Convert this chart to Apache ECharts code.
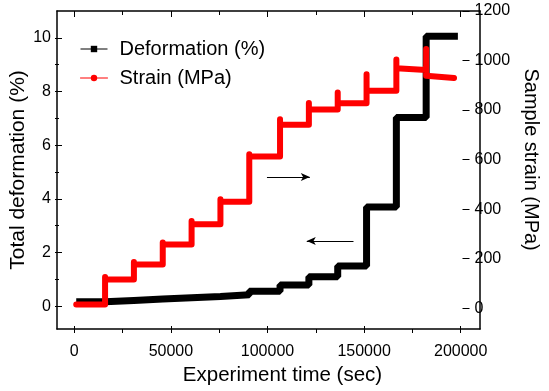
<!DOCTYPE html>
<html>
<head>
<meta charset="utf-8">
<script src="https://cdn.jsdelivr.net/npm/echarts@6/dist/echarts.min.js"></script>
<style>html,body{margin:0;padding:0;background:#fff}#c{width:549px;height:391px}</style>
</head>
<body>
<div id="c"></div>
<script>
// ---- data ----
var deformTimes  = [0, 15000, 30000, 45000, 60000, 75000, 90000, 106000, 121000, 136000, 151000, 166500, 182000, 198500];
var deformValues = [0.03, 0.08, 0.13, 0.18, 0.23, 0.29, 0.42, 0.66, 0.97, 1.38, 3.6, 6.98, 10.05, 10.05];

var strainTimes  = [0, 15000, 30000, 45000, 60000, 75000, 90000, 106000, 121000, 136000, 151000, 166500, 182000];
var strainSpikes = [0, 113, 174, 254, 342, 430, 614, 757, 824, 867, 941, 1002, 1045];
var strainStart  = [0, 102, 164, 245, 328, 420, 605, 735, 797, 823, 874, 966, 935];
var strainEnd    = [0, 102, 164, 245, 328, 420, 605, 735, 797, 823, 874, 959, 926];
var strainLastTime = 196500;

// axis scales / ticks
var xMin = -10000, xMax = 210000, xLabelStep = 50000, xMinorStep = 25000, xTickMax = 200000;
var leftMin = -1, leftMax = 11, leftLabelStep = 2, leftMinorStep = 1, leftTickMax = 10;
var rightMin = -100, rightMax = 1200, rightLabelStep = 200;

// arrows (annotation, data coords on left axis)
var arrowRight = [[99200, 4.74], [121500, 4.74]];
var arrowLeft  = [[144200, 2.32], [119900, 2.32]];

// ---- build series data ----
var deformData = deformTimes.map(function (t, i) { return [t, deformValues[i]]; });
var strainData = [];
for (var i = 0; i < strainTimes.length; i++) {
  var t = strainTimes[i];
  if (i > 0) strainData.push([t, strainEnd[i - 1]]);
  strainData.push([t, strainSpikes[i]]);
  strainData.push([t, strainStart[i]]);
}
strainData.push([strainLastTime, strainEnd[strainEnd.length - 1]]);

// ---- layout of main grid ----
var W = 549, H = 391, GL = 55, GR = 69, GT = 11, GB = 58;
var pw = W - GL - GR, ph = H - GT - GB;
function xPix(v) { return GL + (v - xMin) / (xMax - xMin) * pw; }
function yPixL(v) { return GT + (leftMax - v) / (leftMax - leftMin) * ph; }
function yPixR(v) { return GT + (rightMax - v) / (rightMax - rightMin) * ph; }

var FONT = 'Liberation Sans, Arial, sans-serif';
var plain = function (v) { return String(v); };
var chart = echarts.init(document.getElementById('c'), null, {renderer: 'canvas'});
var frameLine = {show: true, onZero: false, lineStyle: {color: '#000', width: 1.5}};
var noLine = {show: false, onZero: false};
var tickStyle = {color: '#000', width: 1};
var labelStyle = {fontSize: 16, color: '#000', fontFamily: FONT, formatter: plain};
function dummy(gi) { return {type: 'value', gridIndex: gi, show: false, min: 0, max: 1}; }

var option = {
  animation: false,
  backgroundColor: '#fff',
  textStyle: {fontFamily: FONT},
  grid: [
    {left: GL, right: GR, top: GT, bottom: GB},
    {left: xPix(0), right: W - xPix(xTickMax), top: GT, bottom: GB},
    {left: GL, right: GR, top: yPixL(leftTickMax), bottom: H - yPixL(0)},
    {left: GL, right: GR, top: GT, bottom: H - yPixR(0)}
  ],
  legend: {
    orient: 'vertical', left: 75, top: 34, itemGap: 9,
    itemWidth: 27, itemHeight: 8,
    textStyle: {fontSize: 20, color: '#000', fontFamily: FONT, padding: [0, 0, 0, 7]},
    lineStyle: {width: 1},
    data: ['Deformation (%)', 'Strain (MPa)']
  },
  xAxis: [
    // 0: main data axis (frame bottom + title)
    {type: 'value', gridIndex: 0, position: 'bottom', min: xMin, max: xMax,
     name: 'Experiment time (sec)', nameLocation: 'middle', nameGap: 36,
     nameTextStyle: {fontSize: 20.5, color: '#000', fontFamily: FONT, padding: [0, 0, 0, 28]},
     axisLine: frameLine, splitLine: {show: false}, axisTick: {show: false}, axisLabel: {show: false}},
    // 1: frame top
    {type: 'value', gridIndex: 0, position: 'top', min: xMin, max: xMax,
     axisLine: frameLine, splitLine: {show: false}, axisTick: {show: false}, axisLabel: {show: false}},
    // 2: bottom major ticks + labels
    {type: 'value', gridIndex: 1, position: 'bottom', min: 0, max: xTickMax, interval: xLabelStep,
     axisLine: noLine, splitLine: {show: false},
     axisTick: {show: true, inside: true, length: 7, lineStyle: tickStyle},
     axisLabel: Object.assign({show: true, margin: 11}, labelStyle)},
    // 3: bottom minor ticks
    {type: 'value', gridIndex: 1, position: 'bottom', min: 0, max: xTickMax, interval: xMinorStep,
     axisLine: noLine, splitLine: {show: false}, axisLabel: {show: false},
     axisTick: {show: true, inside: true, length: 4, lineStyle: tickStyle}},
    // 4: top major ticks
    {type: 'value', gridIndex: 1, position: 'top', min: 0, max: xTickMax, interval: xLabelStep,
     axisLine: noLine, splitLine: {show: false}, axisLabel: {show: false},
     axisTick: {show: true, inside: true, length: 6, lineStyle: tickStyle}},
    // 5: top minor ticks
    {type: 'value', gridIndex: 1, position: 'top', min: 0, max: xTickMax, interval: xMinorStep,
     axisLine: noLine, splitLine: {show: false}, axisLabel: {show: false},
     axisTick: {show: true, inside: true, length: 4, lineStyle: tickStyle}},
    dummy(2), dummy(3)
  ],
  yAxis: [
    // 0: left data axis (frame + title)
    {type: 'value', gridIndex: 0, position: 'left', min: leftMin, max: leftMax,
     name: 'Total deformation (%)', nameLocation: 'middle', nameGap: 28,
     nameTextStyle: {fontSize: 21, color: '#000', fontFamily: FONT},
     axisLine: frameLine, splitLine: {show: false}, axisTick: {show: false}, axisLabel: {show: false}},
    // 1: right data axis (frame)
    {type: 'value', gridIndex: 0, position: 'right', min: rightMin, max: rightMax,
     axisLine: frameLine, splitLine: {show: false}, axisTick: {show: false}, axisLabel: {show: false}},
    dummy(1),
    // 3: left major ticks + labels
    {type: 'value', gridIndex: 2, position: 'left', min: 0, max: leftTickMax, interval: leftLabelStep,
     axisLine: noLine, splitLine: {show: false},
     axisTick: {show: true, inside: true, length: 7, lineStyle: tickStyle},
     axisLabel: Object.assign({show: true, margin: 4}, labelStyle)},
    // 4: left minor ticks
    {type: 'value', gridIndex: 2, position: 'left', min: 0, max: leftTickMax, interval: leftMinorStep,
     axisLine: noLine, splitLine: {show: false}, axisLabel: {show: false},
     axisTick: {show: true, inside: true, length: 4, lineStyle: tickStyle}},
    // 5: right ticks + labels + title
    {type: 'value', gridIndex: 3, position: 'right', min: 0, max: rightMax, interval: rightLabelStep,
     name: 'Sample strain (MPa)', nameLocation: 'middle', nameGap: 43, nameRotate: -90,
     nameTextStyle: {fontSize: 20, color: '#000', fontFamily: FONT},
     axisLine: noLine, splitLine: {show: false},
     axisTick: {show: true, inside: true, length: 7, lineStyle: tickStyle},
     axisLabel: Object.assign({show: true, margin: 5}, labelStyle)}
  ],
  series: [{
    name: 'Deformation (%)', type: 'line', xAxisIndex: 0, yAxisIndex: 0,
    step: 'end', data: deformData, symbol: 'rect', symbolSize: 8, showSymbol: false,
    itemStyle: {color: '#000'}, lineStyle: {color: '#000', width: 7},
    markLine: {
      silent: true, animation: false, symbol: ['none', 'arrow'], symbolSize: [6, 9],
      label: {show: false}, lineStyle: {color: '#000', width: 1, type: 'solid'},
      data: [
        [{coord: arrowRight[0]}, {coord: arrowRight[1]}],
        [{coord: arrowLeft[0]}, {coord: arrowLeft[1]}]
      ]
    }
  }, {
    name: 'Strain (MPa)', type: 'line', xAxisIndex: 0, yAxisIndex: 1,
    data: strainData, symbol: 'circle', symbolSize: 8, showSymbol: false,
    itemStyle: {color: '#ff0000'}, lineStyle: {color: '#ff0000', width: 6, cap: 'round', join: 'round'}
  }]
};
chart.setOption(option);
</script>
</body>
</html>
